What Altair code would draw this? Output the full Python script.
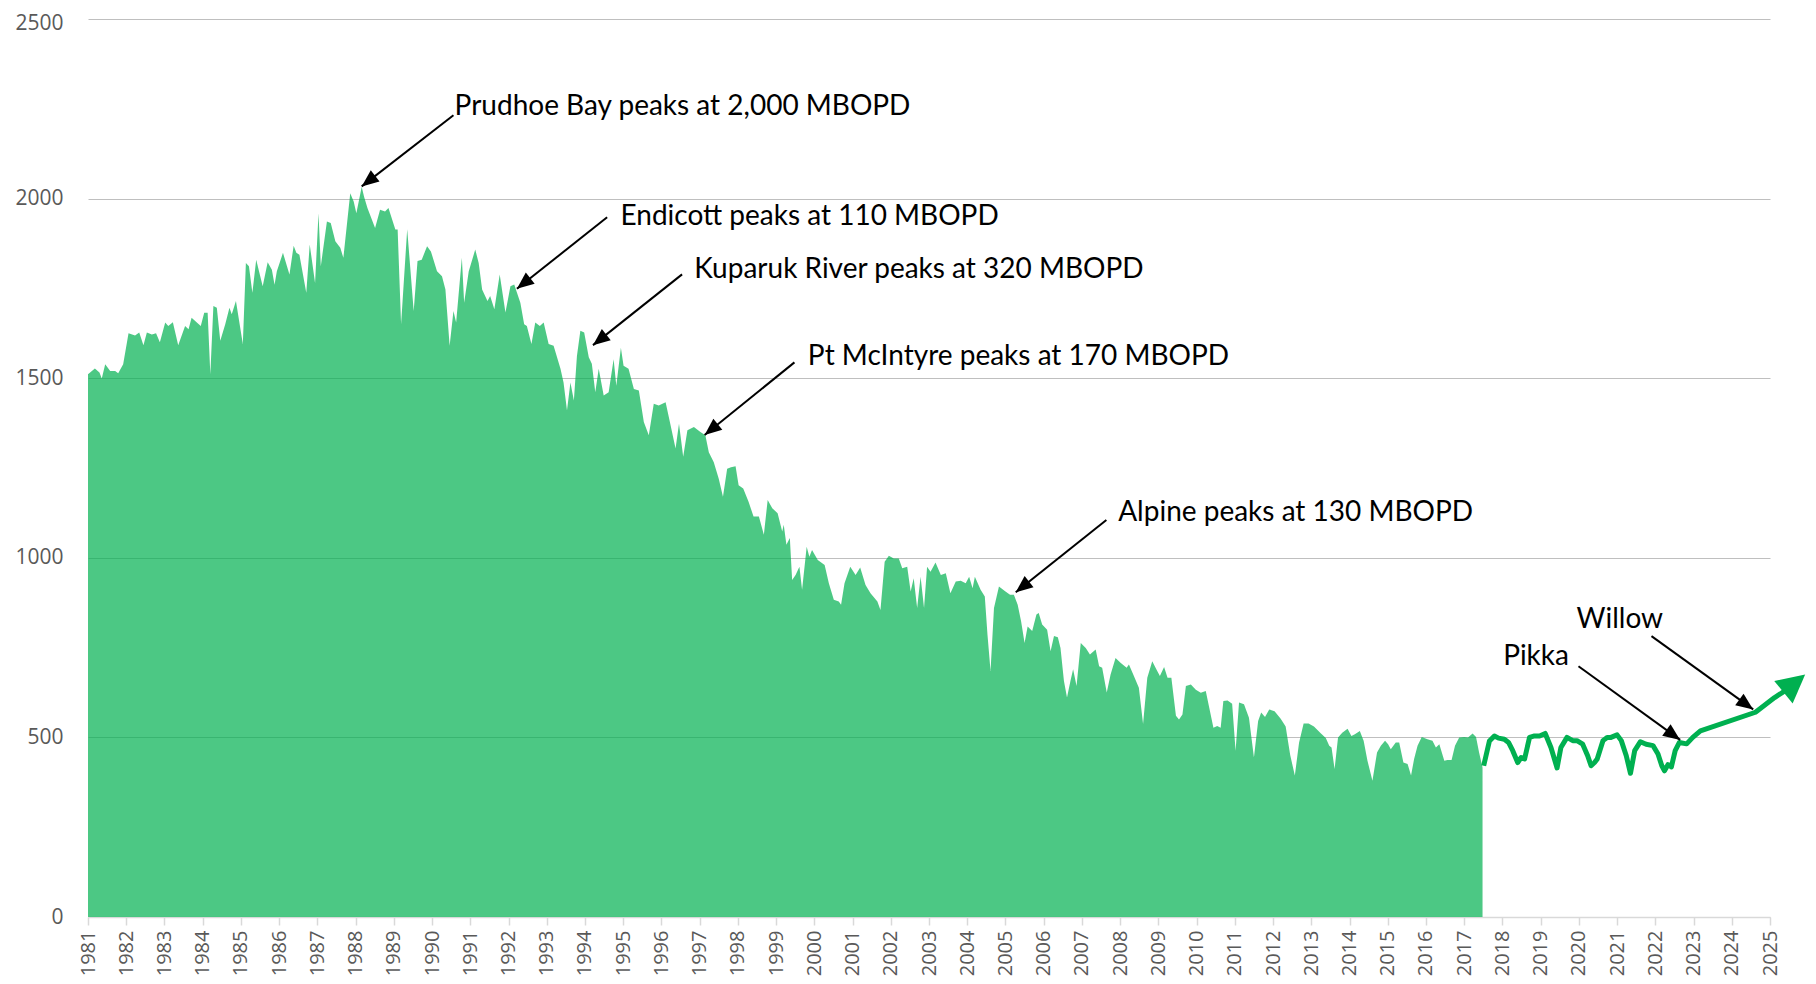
import math
import altair as alt
import pandas as pd

# ---------------- data ----------------
hist_year = [
    1981.00, 1981.18, 1981.30, 1981.36, 1981.45, 1981.58, 1981.71, 1981.79, 1981.92,
    1982.06, 1982.23, 1982.34, 1982.45, 1982.54, 1982.67, 1982.78, 1982.88,
    1983.02, 1983.10, 1983.22, 1983.36, 1983.54, 1983.63, 1983.71, 1983.84, 1983.95,
    1984.04, 1984.13, 1984.20, 1984.28, 1984.37, 1984.46, 1984.59, 1984.70, 1984.76, 1984.87,
    1985.05, 1985.13, 1985.21, 1985.30, 1985.40, 1985.57, 1985.70, 1985.81, 1985.88, 1985.94,
    1986.10, 1986.27, 1986.38, 1986.45, 1986.53, 1986.71, 1986.80, 1986.94,
    1987.03, 1987.09, 1987.25, 1987.35, 1987.47, 1987.60, 1987.68, 1987.86, 1987.95,
    1988.02, 1988.16, 1988.22, 1988.31, 1988.51, 1988.64, 1988.77, 1988.86,
    1989.04, 1989.10, 1989.19, 1989.35, 1989.52, 1989.62, 1989.73, 1989.87, 1989.97,
    1990.13, 1990.26, 1990.35, 1990.46, 1990.56, 1990.63, 1990.78, 1990.84, 1990.96,
    1991.13, 1991.22, 1991.31, 1991.45, 1991.52, 1991.63, 1991.77, 1991.92,
    1992.05, 1992.15, 1992.31, 1992.41, 1992.48, 1992.60, 1992.70, 1992.82, 1992.92,
    1993.05, 1993.18, 1993.36, 1993.44, 1993.53, 1993.62, 1993.71, 1993.79, 1993.88, 1993.98,
    1994.10, 1994.18, 1994.27, 1994.36, 1994.49, 1994.62, 1994.75, 1994.82, 1994.94,
    1995.01, 1995.14, 1995.28, 1995.41, 1995.54, 1995.67, 1995.80, 1995.93,
    1996.11, 1996.24, 1996.37, 1996.46, 1996.57, 1996.68, 1996.85,
    1997.02, 1997.15, 1997.24, 1997.37, 1997.50, 1997.61, 1997.72, 1997.82, 1997.94,
    1998.02, 1998.14, 1998.28, 1998.41, 1998.55, 1998.68, 1998.78, 1998.90,
    1999.04, 1999.16, 1999.20, 1999.27, 1999.36, 1999.42, 1999.51, 1999.61, 1999.68, 1999.80, 1999.87, 1999.94,
    2000.09, 2000.27, 2000.38, 2000.51, 2000.64, 2000.70, 2000.79, 2000.94,
    2001.08, 2001.20, 2001.34, 2001.47, 2001.65, 2001.73, 2001.84, 2001.95,
    2002.08, 2002.21, 2002.30, 2002.43, 2002.52, 2002.60, 2002.69, 2002.78, 2002.87, 2002.95,
    2003.04, 2003.17, 2003.31, 2003.44, 2003.56, 2003.70, 2003.83, 2003.96,
    2004.05, 2004.14, 2004.20, 2004.35, 2004.46, 2004.53, 2004.61, 2004.70, 2004.83,
    2005.00, 2005.12, 2005.22, 2005.32, 2005.41, 2005.50, 2005.58, 2005.70, 2005.81, 2005.87, 2005.96,
    2006.09, 2006.18, 2006.27, 2006.37, 2006.44, 2006.53, 2006.61, 2006.70, 2006.77, 2006.86, 2006.97,
    2007.10, 2007.21, 2007.36, 2007.45, 2007.53, 2007.65, 2007.75, 2007.88,
    2008.01, 2008.17, 2008.23, 2008.36, 2008.49, 2008.60, 2008.71, 2008.84, 2008.95,
    2009.04, 2009.15, 2009.24, 2009.34, 2009.46, 2009.54, 2009.63, 2009.72, 2009.85, 2009.98,
    2010.11, 2010.24, 2010.33, 2010.44, 2010.54, 2010.63, 2010.70, 2010.81, 2010.93,
    2011.02, 2011.11, 2011.24, 2011.37, 2011.50, 2011.61, 2011.69, 2011.79, 2011.90,
    2012.04, 2012.20, 2012.33, 2012.45, 2012.57, 2012.68, 2012.80, 2012.93,
    2013.07, 2013.24, 2013.38, 2013.47, 2013.53, 2013.61, 2013.70, 2013.81, 2013.95,
    2014.05, 2014.14, 2014.27, 2014.37, 2014.47, 2014.60, 2014.72, 2014.82, 2014.93,
    2015.01, 2015.08, 2015.21, 2015.30, 2015.41, 2015.52, 2015.61, 2015.69, 2015.78, 2015.89,
    2016.04, 2016.17, 2016.26, 2016.35, 2016.48, 2016.56, 2016.67, 2016.76, 2016.87,
    2017.00, 2017.10, 2017.22, 2017.31, 2017.39, 2017.48,
]
hist_value = [
    1511, 1527, 1516, 1499, 1539, 1520, 1520, 1514, 1539,
    1625, 1619, 1627, 1592, 1627, 1622, 1625, 1600,
    1655, 1645, 1656, 1592, 1645, 1636, 1668, 1656, 1645,
    1682, 1682, 1511, 1701, 1696, 1604, 1650, 1696, 1678, 1715,
    1595, 1821, 1812, 1738, 1830, 1756, 1823, 1802, 1760, 1798,
    1849, 1789, 1869, 1849, 1844, 1738, 1872, 1765,
    1959, 1812, 1936, 1932, 1881, 1863, 1835, 2015, 1992,
    1959, 2033, 2006, 1974, 1918, 1969, 1964, 1974,
    1914, 1914, 1650, 1915, 1687, 1826, 1830, 1867, 1853,
    1798, 1784, 1747, 1590, 1687, 1655, 1835, 1710, 1798,
    1858, 1821, 1747, 1715, 1729, 1692, 1789, 1683,
    1756, 1761, 1710, 1650, 1645, 1595, 1655, 1645, 1655,
    1595, 1590, 1526, 1488, 1410, 1488, 1438, 1562, 1632, 1627,
    1558, 1540, 1461, 1526, 1452, 1461, 1553, 1479, 1585,
    1535, 1526, 1470, 1466, 1378, 1341, 1429, 1424,
    1433, 1369, 1304, 1373, 1281, 1355, 1364,
    1350, 1341, 1294, 1266, 1220, 1170, 1248, 1252, 1255,
    1202, 1193, 1156, 1115, 1115, 1064, 1161, 1138,
    1124, 1073, 1092, 1036, 1055, 938, 952, 975, 911, 1031, 1003, 1022,
    994, 980, 929, 883, 878, 869, 929, 975,
    952, 973, 924, 901, 878, 855, 989, 1006,
    998, 998, 971, 975, 906, 943, 860, 947, 860, 975,
    961, 987, 952, 957, 901, 934, 936, 929,
    947, 915, 947, 911, 892, 786, 685, 860, 920,
    906, 897, 897, 869, 823, 763, 809, 796, 842, 846, 814,
    800, 740, 782, 779, 749, 657, 611, 657, 690, 643, 763,
    749, 731, 745, 698, 694, 625, 675, 721,
    708, 694, 703, 671, 638, 537, 666, 712, 689,
    671, 696, 666, 666, 560, 550, 564, 643, 647, 633,
    624, 629, 583, 527, 532, 527, 601, 603, 594,
    463, 597, 592, 555, 444, 546, 569, 557, 578,
    573, 552, 530, 450, 394, 485, 539, 539,
    530, 512, 498, 477, 472, 412, 500, 513, 524,
    504, 509, 518, 491, 435, 379, 458, 477, 491,
    481, 467, 486, 486, 430, 426, 394, 440, 477, 501,
    495, 491, 472, 481, 435, 437, 437, 477, 500,
    501, 500, 511, 501, 458, 416,
]

fc_year = [
    2017.51, 2017.66, 2017.79, 2017.90, 2018.05, 2018.16, 2018.27, 2018.40, 2018.49, 2018.58,
    2018.71, 2018.84, 2018.97, 2019.12, 2019.27, 2019.43, 2019.53, 2019.69, 2019.84, 2019.95,
    2020.10, 2020.23, 2020.32, 2020.41, 2020.48, 2020.63, 2020.74, 2020.84, 2021.00, 2021.11,
    2021.24, 2021.35, 2021.46, 2021.61, 2021.76, 2021.94, 2022.07, 2022.17, 2022.24, 2022.33,
    2022.42, 2022.52, 2022.63, 2022.82, 2022.98, 2023.18, 2024.62, 2025.12, 2025.40,
]
fc_value = [
    421, 490, 504, 498, 495, 486, 463, 430, 444, 440,
    500, 504, 504, 511, 472, 415, 472, 500, 491, 491,
    481, 449, 421, 430, 440, 491, 500, 500, 507, 491,
    449, 400, 463, 488, 481, 477, 454, 421, 407, 424,
    418, 463, 486, 482, 500, 518, 570, 611, 630,
]
fc_tip_year = [2025.92]
fc_tip_value = [675]

ann_label = [
    "Prudhoe Bay peaks at 2,000 MBOPD",
    "Endicott peaks at 110 MBOPD",
    "Kuparuk River peaks at 320 MBOPD",
    "Pt McIntyre peaks at 170 MBOPD",
    "Alpine peaks at 130 MBOPD",
    "Pikka",
    "Willow",
]
ann_text_year = [1990.59, 1994.93, 1996.86, 1999.83, 2007.95, 2018.02, 2019.94]
ann_text_value = [2255, 1950, 1801, 1558, 1125, 723, 828]
ann_start_year = [1990.56, 1994.58, 1996.54, 1999.48, 2007.64, 2019.99, 2021.90]
ann_start_value = [2232, 1948, 1789, 1544, 1105, 698, 782]
ann_tip_year = [1988.16, 1992.22, 1994.21, 1997.13, 2005.27, 2022.65, 2024.56]
ann_tip_value = [2034, 1749, 1592, 1342, 904, 493, 578]

x_ticks = list(range(1981, 2026))
y_ticks = [0, 500, 1000, 1500, 2000, 2500]

# ---------------- layout / style ----------------
W, H = 1682, 898
X0, X1 = 1981, 2025
Y1 = 2500
PX_YEAR = W / (X1 - X0)
PX_VAL = H / Y1

GREEN = "#00B050"
LABEL_GREY = "#595959"
AXIS_FONT = "Open Sans"
ANN_FONT = "Lato"


def heading(x0, y0, x1, y1):
    """clockwise angle (deg) of the screen direction from point 0 to point 1."""
    dx = (x1 - x0) * PX_YEAR
    dy = -(y1 - y0) * PX_VAL
    return math.degrees(math.atan2(dx, -dy)) % 360


hist = pd.DataFrame({"year": hist_year, "value": hist_value})
fc = pd.DataFrame({"year": fc_year, "value": fc_value})
fc_head = pd.DataFrame({
    "year": fc_tip_year,
    "value": fc_tip_value,
    "angle": [heading(fc_year[-1], fc_value[-1], fc_tip_year[0], fc_tip_value[0])],
})
ann = pd.DataFrame({
    "label": ann_label,
    "tx": ann_text_year,
    "ty": ann_text_value,
    "year": ann_start_year,
    "value": ann_start_value,
    "year2": ann_tip_year,
    "value2": ann_tip_value,
})
ann["angle"] = [
    heading(a, b, c, d)
    for a, b, c, d in zip(ann_start_year, ann_start_value, ann_tip_year, ann_tip_value)
]

x_scale = alt.Scale(domain=[X0, X1], nice=False, zero=False)
y_scale = alt.Scale(domain=[0, Y1], nice=False)

x_axis = alt.Axis(
    values=x_ticks, format="d", title=None, labelAngle=270,
    labelFont=AXIS_FONT, labelFontSize=20, labelColor=LABEL_GREY,
    labelPadding=5, labelOverlap=False, labelFlush=False, labelBound=False,
    tickSize=8, tickColor="#d9d9d9", tickWidth=1.5,
    domainColor="#d9d9d9", domainWidth=1.5, grid=False,
)
y_axis = alt.Axis(
    values=y_ticks, format="d", title=None,
    labelFont=AXIS_FONT, labelFontSize=21, labelColor=LABEL_GREY,
    labelPadding=25, labelFlush=False, labelOverlap=False,
    labelOffset={"condition": {"test": f"datum.value == {Y1}", "value": 4}, "value": 0},
    ticks=False, domain=False, grid=True, gridColor="#bfbfbf", gridWidth=1.2,
)

X = alt.X("year:Q", scale=x_scale, axis=x_axis)
Y = alt.Y("value:Q", scale=y_scale, axis=y_axis)

area = alt.Chart(hist).mark_area(color=GREEN, opacity=0.7, interpolate="linear").encode(x=X, y=Y)

line = alt.Chart(fc).mark_line(
    color=GREEN, strokeWidth=5, strokeJoin="round", strokeCap="butt"
).encode(x=X, y=Y, order="year:Q")

fc_arrow = alt.Chart(fc_head).mark_point(
    shape="M0,0L-0.52,1L0.52,1Z", size=3136, filled=True, color=GREEN, opacity=1, strokeWidth=0
).encode(x=X, y=Y, angle=alt.Angle("angle:Q", scale=None))

ann_lines = alt.Chart(ann).mark_rule(color="black", strokeWidth=2).encode(
    x=X, y=Y, x2="year2:Q", y2="value2:Q"
)

ann_heads = alt.Chart(ann).mark_point(
    shape="M0,0L-0.42,1L0.42,1Z", size=1156, filled=True, color="black", opacity=1, strokeWidth=0
).encode(
    x=alt.X("year2:Q", scale=x_scale, axis=x_axis),
    y=alt.Y("value2:Q", scale=y_scale, axis=y_axis),
    angle=alt.Angle("angle:Q", scale=None),
)

ann_text = alt.Chart(ann).mark_text(
    align="left", baseline="middle", font=ANN_FONT, fontSize=28, color="black"
).encode(
    x=alt.X("tx:Q", scale=x_scale, axis=x_axis),
    y=alt.Y("ty:Q", scale=y_scale, axis=y_axis),
    text="label:N",
)

chart = alt.layer(area, line, fc_arrow, ann_lines, ann_heads, ann_text).properties(
    width=W,
    height=H,
    autosize=alt.AutoSizeParams(type="none"),
    padding={"left": 80, "top": 11, "right": 38, "bottom": 59},
    background="white",
).configure_view(stroke=None)

chart.save("out.html", embed_options={"renderer": "svg", "actions": False})
